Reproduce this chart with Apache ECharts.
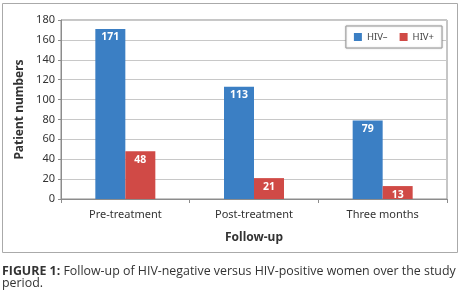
<!DOCTYPE html>
<html>
<head>
<meta charset="utf-8">
<script src="https://cdn.jsdelivr.net/npm/echarts@6/dist/echarts.min.js"></script>
<style>
  html, body { margin: 0; padding: 0; background: #fff; }
  #chart { width: 464px; height: 297px; }
</style>
</head>
<body>
<div id="chart"></div>
<script>
const categories = ["Pre-treatment", "Post-treatment", "Three months"];
const hivNeg = [171, 113, 79];
const hivPos = [48, 21, 13];
const yTicks = { min: 0, max: 180, interval: 20 };

const font = "Noto Sans";
const chart = echarts.init(document.getElementById("chart"));

const barLabel = {
  show: true,
  position: "insideTop",
  distance: 3,
  color: "#fff",
  fontWeight: "bold",
  fontSize: 10.5,
};

chart.setOption({
  animation: false,
  textStyle: { fontFamily: font, color: "#333" },
  grid: {
    left: 61,
    top: 20,
    right: 17,
    bottom: 98,
    show: true,
    borderColor: "#8c8c8c",
    borderWidth: 1,
  },
  legend: {
    right: 22,
    top: 26,
    itemWidth: 8,
    itemHeight: 8,
    itemGap: 12,
    icon: "rect",
    padding: [6, 8],
    borderColor: "#999",
    borderWidth: 1,
    backgroundColor: "#fff",
    shadowColor: "rgba(0,0,0,0.2)",
    shadowBlur: 2,
    textStyle: { fontSize: 9.5, color: "#444", fontFamily: font },
  },
  xAxis: {
    type: "category",
    data: categories,
    name: "Follow-up",
    nameLocation: "middle",
    nameGap: 33,
    nameTextStyle: { fontSize: 12, fontWeight: "bold", color: "#333" },
    axisLine: { lineStyle: { color: "#8c8c8c" } },
    axisTick: { show: true, length: 4, lineStyle: { color: "#8c8c8c" } },
    axisLabel: { fontSize: 11, color: "#333", margin: 10 },
  },
  yAxis: {
    type: "value",
    min: yTicks.min,
    max: yTicks.max,
    interval: yTicks.interval,
    name: "Patient numbers",
    nameLocation: "middle",
    nameGap: 34,
    nameTextStyle: { fontSize: 12, fontWeight: "bold", color: "#333" },
    axisLine: { show: true, lineStyle: { color: "#8c8c8c" } },
    axisTick: { show: true, length: 3, lineStyle: { color: "#8c8c8c" } },
    axisLabel: { fontSize: 11, color: "#333", margin: 6 },
    splitLine: { lineStyle: { color: "#c8c8c8" } },
  },
  series: [
    {
      name: "HIV\u2013",
      type: "bar",
      data: hivNeg,
      barWidth: 30,
      barGap: "0%",
      itemStyle: { color: "#3b7fc4" },
      label: barLabel,
    },
    {
      name: "HIV+",
      type: "bar",
      data: hivPos,
      barWidth: 30,
      barGap: "0%",
      itemStyle: { color: "#d04a46" },
      label: barLabel,
    },
  ],
  graphic: [
    {
      type: "rect",
      shape: { x: 2.5, y: 3.5, width: 455, height: 249 },
      style: { fill: "none", stroke: "#aaa", lineWidth: 1 },
      silent: true,
      z: -1,
    },
    {
      type: "text",
      left: 2,
      top: 265,
      style: {
        text: "{b|FIGURE 1:} Follow-up of HIV-negative versus HIV-positive women over the study\nperiod.",
        rich: {
          b: { fontWeight: "bold", fontSize: 12.4, fontFamily: "Open Sans", fill: "#333" },
        },
        fontSize: 12.4,
        fontFamily: "Open Sans",
        fill: "#333",
        lineHeight: 12,
      },
    },
  ],
});
</script>
</body>
</html>
